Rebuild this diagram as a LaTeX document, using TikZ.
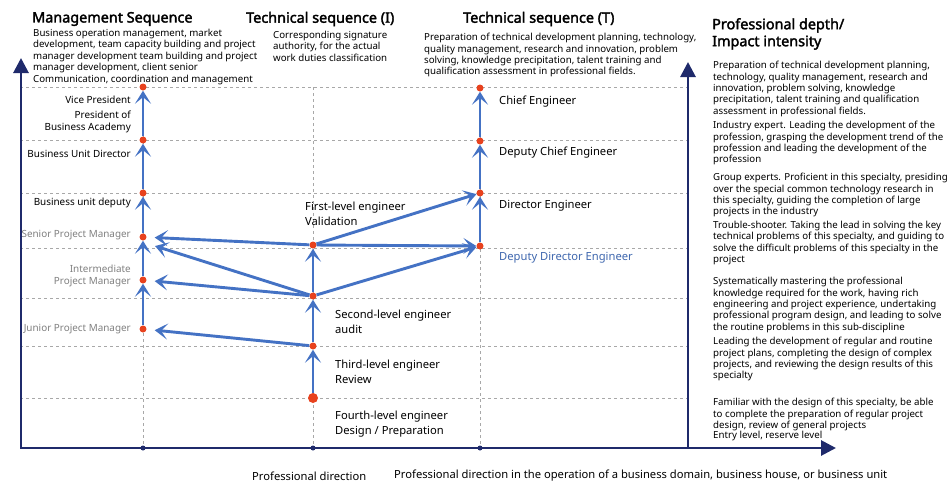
\documentclass[tikz,border=0pt]{standalone}
\usepackage{fontspec}
\setmainfont{Noto Sans}[AutoFakeBold=2.2]
\usetikzlibrary{arrows.meta, positioning}
\tikzset{>=stealth}
\definecolor{navy}{HTML}{1F2A6B}
\definecolor{flowblue}{HTML}{4472C4}
\definecolor{dotred}{HTML}{E8421E}
\definecolor{gridgray}{HTML}{A8A8A8}
\definecolor{lblgray}{HTML}{808080}
\definecolor{lblblue}{HTML}{3F67AE}

\begin{document}
\begin{tikzpicture}[x=1pt, y=-1pt,
  dot/.style={circle, fill=dotred, inner sep=0pt, minimum size=7pt},
  tick/.style={circle, fill=navy, inner sep=0pt, minimum size=5pt},
  flow/.style={-{Stealth[length=13pt, width=16pt, inset=6.5pt]}, draw=flowblue, line width=2.9pt},
  axis/.style={draw=navy, line width=2.8pt},
  gridline/.style={draw=gridgray, dashed, line width=0.6pt},
  head/.style={font=\fontsize{14.4}{17}\selectfont\bfseries, inner sep=0pt},
  desc/.style={font=\fontsize{9.7}{11.4}\selectfont, align=left, anchor=north west, inner sep=0pt},
  rank/.style={font=\fontsize{9.9}{11.5}\selectfont, align=right, anchor=east, inner sep=0pt},
  eng/.style={font=\fontsize{11.2}{14.5}\selectfont, align=left, anchor=west, inner sep=0pt}]
  \useasboundingbox (0,0) rectangle (948,485);

  % grid
  \draw[gridline] (20,87) -- (688,87);
  \draw[gridline] (20,140) -- (688,140);
  \draw[gridline] (20,193) -- (688,193);
  \draw[gridline] (20,248) -- (688,248);
  \draw[gridline] (20,298) -- (688,298);
  \draw[gridline] (20,346) -- (688,346);
  \draw[gridline] (20,398) -- (688,398);
  \draw[gridline] (143,87) -- (143,448);
  \draw[gridline] (313,87) -- (313,448);
  \draw[gridline] (480,87) -- (480,448);

  % axes
  \coordinate (Ytop) at (21,58);
  \coordinate (O) at (21,448);
  \coordinate (Xend) at (836,448);
  \coordinate (Rbot) at (688,448);
  \coordinate (Rtop) at (688,62);
  \draw[axis, {Triangle[length=15pt, width=15pt]}-{Triangle[length=15pt, width=15pt]}] (Ytop) -- (O) -- (Xend);
  \draw[axis, -{Triangle[length=15pt, width=15pt]}] (Rbot) -- (Rtop);
  \node[tick] (X1) at (143,448) {};
  \node[tick] (X2) at (313,448) {};
  \node[tick] (X3) at (480,448) {};

  % headings
  \node[head, anchor=west] (HM) at (32,19) {Management Sequence};
  \node[head, anchor=west] (HI) at (246,19) {Technical sequence (I)};
  \node[head, anchor=west] (HT) at (463,19) {Technical sequence (T)};
  \node[head, anchor=north west, align=left] (HD) at (712,18) {Professional depth/\\Impact intensity};

  \node[desc] (DM) at (33,29) {Business operation management, market\\development, team capacity building and project\\manager development team building and project\\manager development, client senior\\Communication, coordination and management};
  \node[desc] (DI) at (273,31) {Corresponding signature\\authority, for the actual\\work duties classification};
  \node[desc] (DT) at (424,33) {Preparation of technical development planning, technology,\\quality management, research and innovation, problem\\solving, knowledge precipitation, talent training and\\qualification assessment in professional fields.};

  % depth levels
  \node[desc] (L1) at (713,61) {Preparation of technical development planning,\\technology, quality management, research and\\innovation, problem solving, knowledge\\precipitation, talent training and qualification\\assessment in professional fields.};
  \node[desc] (L2) at (713,121) {Industry expert. Leading the development of the\\profession, grasping the development trend of the\\profession and leading the development of the\\profession};
  \node[desc] (L3) at (713,173) {Group experts. Proficient in this specialty, presiding\\over the special common technology research in\\this specialty, guiding the completion of large\\projects in the industry};
  \node[desc] (L4) at (713,221) {Trouble-shooter. Taking the lead in solving the key\\technical problems of this specialty, and guiding to\\solve the difficult problems of this specialty in the\\project};
  \node[desc] (L5) at (713,277) {Systematically mastering the professional\\knowledge required for the work, having rich\\engineering and project experience, undertaking\\professional program design, and leading to solve\\the routine problems in this sub-discipline};
  \node[desc] (L6) at (713,337) {Leading the development of regular and routine\\project plans, completing the design of complex\\projects, and reviewing the design results of this\\specialty};
  \node[desc] (L7) at (713,398) {Familiar with the design of this specialty, be able\\to complete the preparation of regular project\\design, review of general projects};
  \node[desc] (L8) at (713,431) {Entry level, reserve level};

  % management sequence
  \node[dot] (M0) at (143,87) {};
  \node[dot] (M1) at (143,140) {};
  \node[dot] (M2) at (143,193) {};
  \node[dot] (M3) at (143,237) {};
  \node[dot] (M4) at (143,280) {};
  \node[dot] (M5) at (143,329) {};
  \node[rank] (vp) at (131,100) {Vice President};
  \node[rank] (pba) at (131,122) {President of\\Business Academy};
  \node[rank] (bud) at (131,154) {Business Unit Director};
  \node[rank] (bdep) at (131,203) {Business unit deputy};
  \node[rank, text=lblgray] (spm) at (131,235) {Senior Project Manager};
  \node[rank, text=lblgray] (ipm) at (131,276) {Intermediate\\Project Manager};
  \node[rank, text=lblgray] (jpm) at (131,329) {Junior Project Manager};

  % technical sequence I
  \node[dot] (I1) at (313,245) {};
  \node[dot] (I2) at (313,296) {};
  \node[dot] (I3) at (313,346) {};
  \node[dot, minimum size=10pt] (I4) at (313,398) {};
  \node[eng] (e1) at (305,214) {First-level engineer\\Validation};
  \node[eng] (e2) at (335,322) {Second-level engineer\\audit};
  \node[eng] (e3) at (335,372) {Third-level engineer\\Review};
  \node[eng] (e4) at (335,424) {Fourth-level engineer\\Design / Preparation};

  % technical sequence T
  \node[dot] (T0) at (480,88) {};
  \node[dot] (T1) at (480,141) {};
  \node[dot] (T2) at (480,193) {};
  \node[dot] (T3) at (480,246) {};
  \node[eng] (ce) at (499,102) {Chief Engineer};
  \node[eng] (dce) at (499,153) {Deputy Chief Engineer};
  \node[eng] (de) at (499,206) {Director Engineer};
  \node[eng, text=lblblue] (dde) at (499,258) {Deputy Director Engineer};

  % promotions
  \draw[flow] (M1) -- (M0);
  \draw[flow] (M2) -- (M1);
  \draw[flow] (M3) -- (M2);
  \draw[flow] (M4) -- (M3);
  \draw[flow] (M5) -- (M4);
  \draw[flow] (I4) -- (I3);
  \draw[flow] (I3) -- (I2);
  \draw[flow] (I2) -- (I1);
  \draw[flow] (T3) -- (T2);
  \draw[flow] (T2) -- (T1);
  \draw[flow] (T1) -- (T0);
  \draw[flow] (I1) -- (T2);
  \draw[flow] (I1) -- (T3);
  \draw[flow] (I2) -- (T3);
  \coordinate (M3b) at (155,246);
  \draw[flow, shorten >=8pt] (I1) -- (M3);
  \draw[flow] (I2) -- (M3b);
  \draw[flow, shorten >=8pt] (I2) -- (M4);
  \draw[flow, shorten >=8pt] (I3) -- (M5);

  % bottom captions
  \node[eng] (PD) at (252,476) {Professional direction};
  \node[eng] (PB) at (394,476) {Professional direction in the operation of a business domain, business house, or business unit};
\end{tikzpicture}
\end{document}
